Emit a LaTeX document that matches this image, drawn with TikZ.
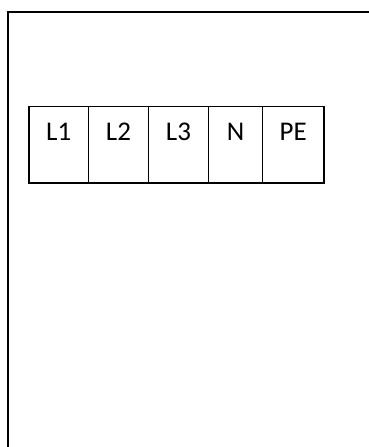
\documentclass[tikz,border=0pt]{standalone}
\usepackage{fontspec}
\setmainfont{Carlito}
\usetikzlibrary{positioning}

\begin{document}
\begin{tikzpicture}[x=1pt,y=-1pt,
                    line width=1.9pt,
                    term/.style={rectangle,draw,outer sep=0pt,inner sep=0pt,minimum height=76.5pt},
                    tag/.style={inner sep=0pt,font=\fontsize{27}{32}\selectfont}
                   ]
    \useasboundingbox (0,0) rectangle (369,447);
    % housing
    \draw (8,447) -- (8,12) -- (369,12);
    % terminal block
    \node[term,minimum width=59.5pt] (L1) at (58.75,144.75) {};
    \node[term,minimum width=60pt,right=0pt of L1] (L2) {};
    \node[term,minimum width=60pt,right=0pt of L2] (L3) {};
    \node[term,minimum width=54pt,right=0pt of L3] (N) {};
    \node[term,minimum width=61.5pt,right=0pt of N] (PE) {};
    % terminal names
    \node[tag,below=15.5pt of L1.north] (tL1) {L1};
    \node[tag,below=15.5pt of L2.north] (tL2) {L2};
    \node[tag,below=15.5pt of L3.north] (tL3) {L3};
    \node[tag,below=15.5pt of N.north] (tN) {N};
    \node[tag,below=15.5pt of PE.north] (tPE) {PE};
\end{tikzpicture}
\end{document}
